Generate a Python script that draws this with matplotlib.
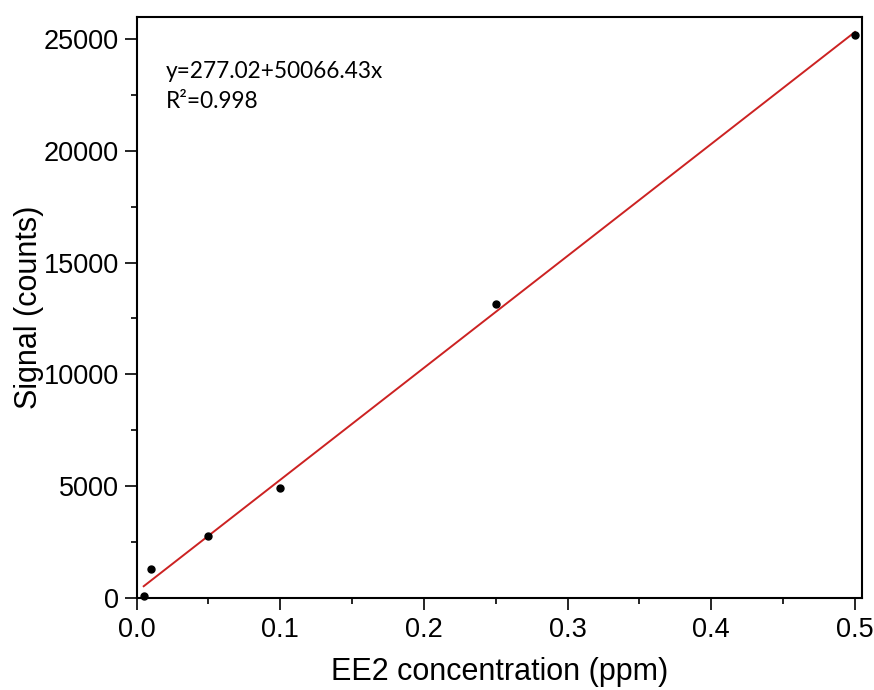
import numpy as np
import matplotlib
matplotlib.use("Agg")
import matplotlib.pyplot as plt
from matplotlib.ticker import MultipleLocator

# calibration data
conc = [0.005, 0.01, 0.05, 0.1, 0.25, 0.5]
signal = [90, 1300, 2780, 4920, 13150, 25180]

# fit reported on the chart
intercept = 277.02
slope = 50066.43
fit_x = np.array([0.005, 0.5])

plt.rcParams['font.family'] = ['Liberation Sans', 'DejaVu Sans']

fig = plt.figure(figsize=(8.74, 6.9), dpi=100)
ax = fig.add_axes([0.1562, 0.1333, 0.8301, 0.8421])

ax.plot(fit_x, intercept + slope * fit_x, color='#cc2222', lw=1.4, zorder=2)
ax.plot(conc, signal, 'o', color='black', ms=5, zorder=3, clip_on=False)

ax.set_xlim(0, 0.5049)
ax.set_ylim(0, 25980)
ax.xaxis.set_major_locator(MultipleLocator(0.1))
ax.xaxis.set_minor_locator(MultipleLocator(0.05))
ax.yaxis.set_major_locator(MultipleLocator(5000))
ax.yaxis.set_minor_locator(MultipleLocator(2500))
ax.xaxis.set_major_formatter(plt.FuncFormatter(lambda v, p: f"{v:.1f}"))

for s in ax.spines.values():
    s.set_linewidth(1.5)
ax.tick_params(which='major', direction='out', length=8.5, width=1.2,
               labelsize=19.5)
ax.tick_params(axis='x', which='major', pad=5)
ax.tick_params(axis='y', which='major', pad=4)
ax.tick_params(which='minor', direction='out', length=4.3, width=1.2)

ax.set_xlabel('EE2 concentration (ppm)', fontsize=22, labelpad=10)
ax.set_ylabel('Signal (counts)', fontsize=22, labelpad=0)

ax.text(0.04, 0.925, 'y=277.02+50066.43x\nR²=0.998', transform=ax.transAxes,
        ha='left', va='top', fontsize=16.3, linespacing=1.55,
        family=['Lato', 'DejaVu Sans'])

fig.savefig('out.png', dpi=100)
